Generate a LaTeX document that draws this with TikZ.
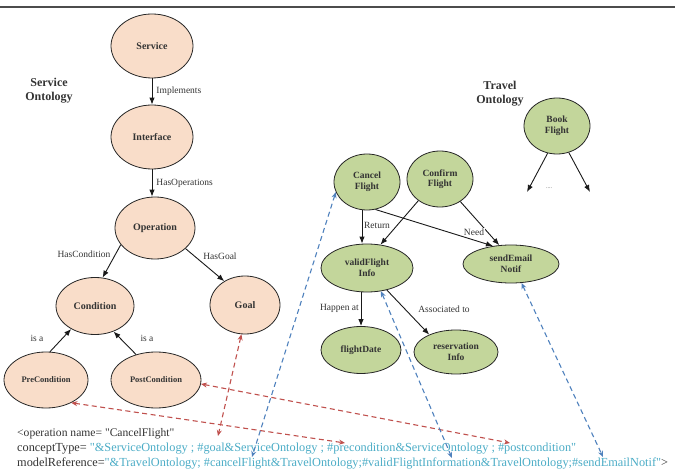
\documentclass[tikz,border=0pt]{standalone}
\usepackage{fontspec}
\setmainfont{Liberation Serif}[Ligatures=TeXOff]
\usetikzlibrary{shapes.geometric,arrows.meta}
\definecolor{peachc}{HTML}{F9DDC9}
\definecolor{greenc}{HTML}{C3D69B}
\definecolor{redd}{HTML}{C0504D}
\definecolor{blued}{HTML}{4F81BD}
\definecolor{cyant}{HTML}{4BACC6}
\definecolor{darkt}{HTML}{333333}
\tikzset{
  pnode/.style={ellipse, draw=black!85, fill=peachc, line width=0.8pt, inner sep=0pt,
    font=\bfseries\fontsize{10}{11}\selectfont, text=darkt},
  gnode/.style={ellipse, draw=black!85, fill=greenc, line width=0.8pt, inner sep=0pt, align=center,
    font=\bfseries\fontsize{9.5}{10.5}\selectfont, text=darkt},
  rel/.style={draw=black!90, line width=0.9pt, -{Latex[length=7pt,width=5.5pt]}},
  lbl/.style={font=\fontsize{9.5}{10}\selectfont, text=darkt, inner sep=0pt},
  ttl/.style={font=\bfseries\fontsize{12}{14}\selectfont, text=darkt, align=center, inner sep=0pt},
  rdash/.style={draw=redd, line width=1.1pt, dash pattern=on 5pt off 3.5pt,
    {Stealth[length=6pt,width=5pt]}-{Stealth[length=6pt,width=5pt]}},
  bdash/.style={draw=blued, line width=1.1pt, dash pattern=on 5pt off 3.5pt,
    {Stealth[length=6pt,width=5pt]}-{Stealth[length=6pt,width=5pt]}},
  codeline/.style={anchor=base west, inner sep=0pt, font=\fontsize{12.3}{14}\selectfont, text=darkt}
}
\begin{document}
\begin{tikzpicture}[x=1pt,y=-1pt]
\useasboundingbox (0,0) rectangle (675,470);
\draw[line width=1.6pt, black!70] (0,7) -- (675,7);

% Service ontology
\node[ttl] (sot) at (49,91) {Service\\Ontology};
\node[pnode, minimum width=82pt, minimum height=64pt] (service) at (152,46) {Service};
\node[pnode, minimum width=82pt, minimum height=64pt] (interface) at (152,137) {Interface};
\node[pnode, minimum width=80pt, minimum height=62pt] (operation) at (155,228) {Operation};
\node[pnode, minimum width=78pt, minimum height=57pt] (condition) at (95,306) {Condition};
\node[pnode, minimum width=70pt, minimum height=58pt] (goal) at (245,305) {Goal};
\node[pnode, minimum width=84pt, minimum height=56pt, font=\bfseries\fontsize{8.5}{10}\selectfont] (pre) at (46,380) {PreCondition};
\node[pnode, minimum width=90pt, minimum height=56pt, font=\bfseries\fontsize{8.5}{10}\selectfont] (post) at (156,380) {PostCondition};

\draw[rel] (service) -- (interface) node[lbl, midway, anchor=west, xshift=4pt] {Implements};
\draw[rel] (interface) -- (operation.north -| interface) node[lbl, midway, anchor=west, xshift=4pt] {HasOperations};
\draw[rel] (operation.206) -- (condition.75);
\node[lbl] (lhc) at (84,254) {HasCondition};
\draw[rel] (operation.326) -- (goal.131);
\node[lbl] (lhg) at (220,256) {HasGoal};
\draw[rel] (pre.82) -- (condition.224);
\node[lbl] (isa1) at (37,338) {is a};
\draw[rel] (post.128) -- (condition.306);
\node[lbl] (isa2) at (147,338) {is a};

% Travel ontology
\node[ttl] (tot) at (500,94) {Travel\\Ontology};
\node[gnode, minimum width=66pt, minimum height=56pt] (book) at (557,126) {Book\\Flight};
\node[gnode, minimum width=66pt, minimum height=56pt] (cancel) at (367,182) {Cancel\\Flight};
\node[gnode, minimum width=66pt, minimum height=56pt] (confirm) at (440,179) {Confirm\\Flight};
\node[gnode, minimum width=92pt, minimum height=48pt] (valid) at (367,268) {validFlight\\Info};
\node[gnode, minimum width=96pt, minimum height=38pt] (send) at (511,264) {sendEmail\\Notif};
\node[gnode, minimum width=80pt, minimum height=47pt] (fdate) at (361,350) {flightDate};
\node[gnode, minimum width=84pt, minimum height=44pt] (resv) at (456,352) {reservation\\Info};

\coordinate (b1) at (527,192);
\coordinate (b2) at (590,192);
\draw[rel] (book.251) -- (b1);
\draw[rel] (book.294) -- (b2);
\node[font=\fontsize{6}{7}\selectfont, text=black!60, inner sep=0pt] (dots) at (549,188) {....};

\draw[rel] ([xshift=-5pt]cancel.south) -- ([xshift=-5pt]valid.north);
\node[lbl] (lret) at (377,225) {Return};
\draw[rel] (confirm.225) -- (valid.60);
\draw[rel] (cancel.287) -- (send.135);
\draw[rel] (confirm.312) -- (send.122);
\node[lbl, fill=white, inner sep=0.5pt] (lneed) at (474,232) {Need};
\draw[rel] (fdate.north |- valid.south) -- (fdate.north);
\node[lbl, anchor=east] (lhap) at (359,308) {Happen at};
\draw[rel] (valid.312) -- (resv.147);
\node[lbl] (lass) at (444,309) {Associated to};

% code text
\node[codeline, font=\fontsize{11.6}{14}\selectfont] (l1) at (17,436) {<operation name= "CancelFlight"};
\node[codeline] (l2) at (17,451) {conceptType= \textcolor{cyant}{"\&ServiceOntology ; \#goal\&ServiceOntology ; \#precondition\&ServiceOntology ; \#postcondition"}};
\node[codeline] (l3) at (17,466) {modelReference=\textcolor{cyant}{"\&TravelOntology; \#cancelFlight\&TravelOntology;\#validFlightInformation\&TravelOntology;\#sendEmailNotif"}>};

% dashed mappings
\coordinate (gT) at (218,436);
\coordinate (preT) at (345,443);
\coordinate (postT) at (510,443);
\coordinate (cT) at (252,457);
\coordinate (vT) at (452,458);
\coordinate (sT) at (603,457);
\draw[rdash] (goal.263) -- (gT);
\draw[rdash] (pre.318) -- (preT);
\draw[rdash] (post.355) -- (postT);
\draw[bdash] (cancel.198) -- (cT);
\draw[bdash] (valid.301) -- (vT);
\draw[bdash] (send.299) -- (sT);
\end{tikzpicture}
\end{document}
